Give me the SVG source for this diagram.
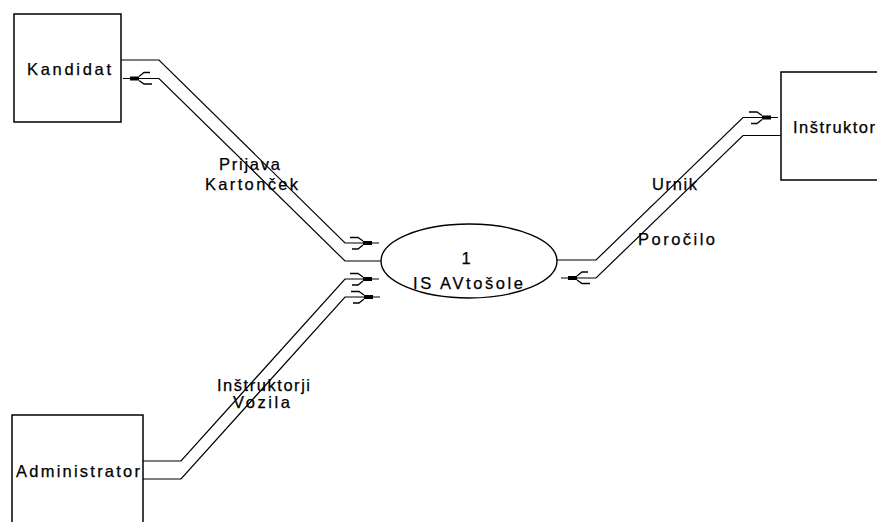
<svg xmlns="http://www.w3.org/2000/svg" width="877" height="522" viewBox="0 0 877 522">
  <style>
    .box { fill: #fff; stroke: #000; stroke-width: 1.5; }
    .proc { fill: #fff; stroke: #000; stroke-width: 1.4; }
    .flow { fill: none; stroke: #000; stroke-width: 1.2; marker-end: url(#flowhead); }
    text { font-family: "Liberation Sans", Arial, sans-serif; font-size: 16.5px; fill: #000; stroke: #000; stroke-width: 0.25; }
  </style>
  <defs>
    <!-- data-flow arrowhead: solid bar near the tip with two feathered strokes -->
    <marker id="flowhead" markerUnits="userSpaceOnUse" orient="auto" refX="0" refY="0"
            markerWidth="40" markerHeight="20" style="overflow:visible">
      <rect x="-16" y="-2" width="9" height="4" fill="#000"/>
      <path d="M-29,-5.5 H-21 L-16,-2 M-27,6 H-21 L-16,2" fill="none" stroke="#000" stroke-width="1.3"/>
    </marker>
  </defs>

  <rect width="877" height="522" fill="#fff"/>

  <!-- data flows -->
  <g id="connectors">
    <path class="flow" d="M121,60 H159 L345,243 H379"/>
    <path class="flow" d="M381,261 H345 L159,78.5 H123"/>
    <path class="flow" d="M143,461 H181 L345,279 H379"/>
    <path class="flow" d="M143,479 H181 L345,297 H380"/>
    <path class="flow" d="M557,260 H596 L743,117.5 H778"/>
    <path class="flow" d="M781,135.5 H743 L596,278 H561"/>
  </g>

  <!-- external entities -->
  <g id="kandidat">
    <rect class="box" x="14" y="14" width="107" height="108"/>
    <text x="27" y="75" textLength="84" lengthAdjust="spacing">Kandidat</text>
  </g>
  <g id="instruktor">
    <rect class="box" x="781" y="72" width="110" height="108"/>
    <text x="793" y="133" textLength="82" lengthAdjust="spacing">Inštruktor</text>
  </g>
  <g id="administrator">
    <rect class="box" x="12" y="415" width="131" height="120"/>
    <text x="16" y="477" textLength="124" lengthAdjust="spacing">Administrator</text>
  </g>

  <!-- process -->
  <g id="process-1">
    <ellipse class="proc" cx="469" cy="261" rx="88" ry="37"/>
    <text x="466" y="264" text-anchor="middle">1</text>
    <text x="413" y="289" textLength="110" lengthAdjust="spacing">IS AVtošole</text>
  </g>

  <!-- flow labels -->
  <g id="flow-labels">
    <text x="219" y="170" textLength="61" lengthAdjust="spacing">Prijava</text>
    <text x="205" y="190" textLength="93" lengthAdjust="spacing">Kartonček</text>
    <text x="217" y="391" textLength="93" lengthAdjust="spacing">Inštruktorji</text>
    <text x="233" y="408" textLength="57" lengthAdjust="spacing">Vozila</text>
    <text x="652" y="190" textLength="45" lengthAdjust="spacing">Urnik</text>
    <text x="638" y="245" textLength="77" lengthAdjust="spacing">Poročilo</text>
  </g>
</svg>
